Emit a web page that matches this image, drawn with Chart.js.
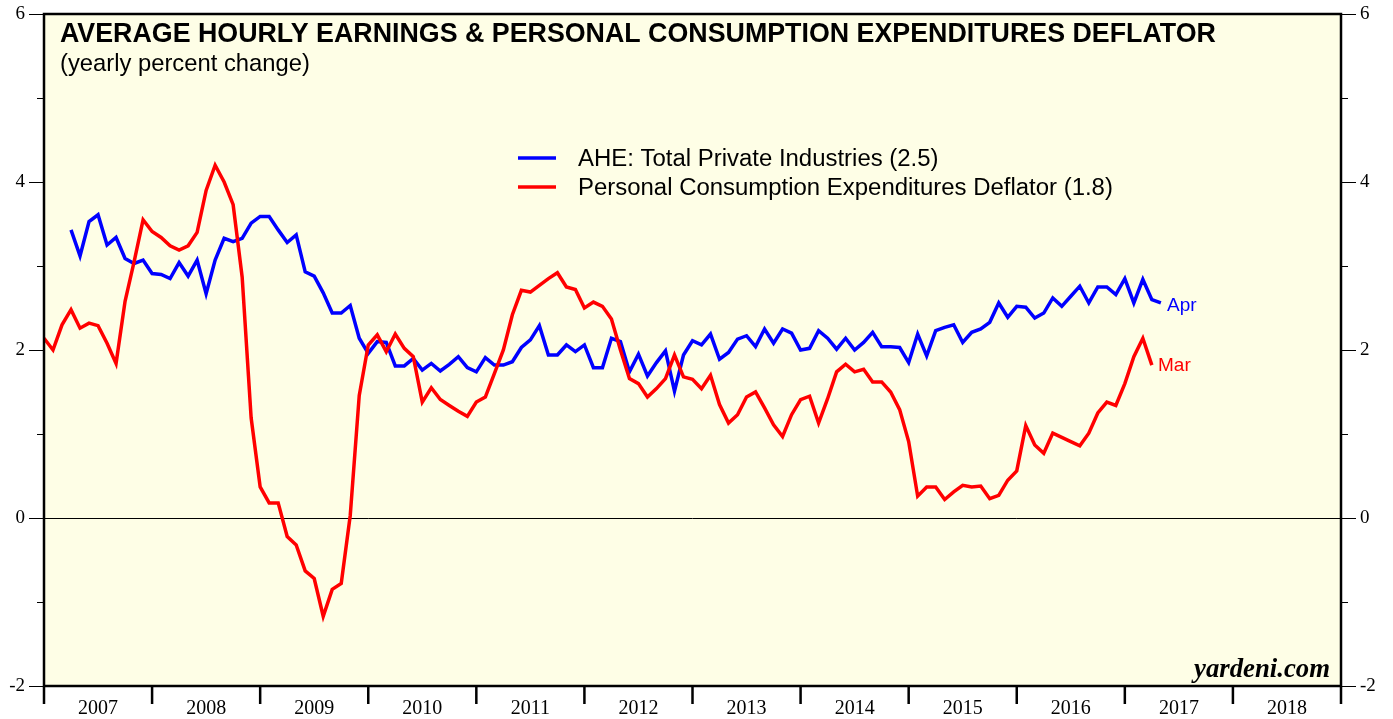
<!DOCTYPE html>
<html>
<head>
<meta charset="utf-8">
<script src="https://cdn.jsdelivr.net/npm/chart.js@4.4.1/dist/chart.umd.min.js"></script>
<style>
  html, body { margin: 0; padding: 0; background: #ffffff; }
  canvas { display: block; }
</style>
</head>
<body>
<canvas id="c" width="1393" height="719"></canvas>
<script>
// ---------------- DATA ----------------
const yearLabels = ['2007','2008','2009','2010','2011','2012','2013','2014','2015','2016','2017','2018'];
const yMajorTicks = [-2, 0, 2, 4, 6];
const yMinorTicks = [-1, 1, 3, 5];

// PCE deflator, yearly % change, monthly from Dec 2006 to Mar 2017
const pceStart = { year: 2006, month: 12 };
const pceValues = [
  2.14, 2.00, 2.30, 2.48, 2.26, 2.32, 2.29, 2.08, 1.84, 2.58,
  3.05, 3.55, 3.41, 3.34, 3.24, 3.19, 3.24, 3.40, 3.90, 4.20,
  4.00, 3.73, 2.87, 1.19, 0.37, 0.18, 0.18, -0.22, -0.32, -0.63,
  -0.72, -1.17, -0.85, -0.78, 0.03, 1.46, 2.06, 2.18, 1.98, 2.19,
  2.02, 1.92, 1.38, 1.55, 1.41, 1.34, 1.27, 1.21, 1.38, 1.44,
  1.72, 2.00, 2.42, 2.71, 2.69, 2.77, 2.85, 2.92, 2.75, 2.72,
  2.50, 2.57, 2.52, 2.37, 2.00, 1.66, 1.60, 1.44, 1.54, 1.66,
  1.94, 1.68, 1.65, 1.54, 1.70, 1.35, 1.13, 1.23, 1.44, 1.50,
  1.31, 1.11, 0.97, 1.23, 1.41, 1.45, 1.13, 1.42, 1.74, 1.83,
  1.74, 1.77, 1.62, 1.62, 1.50, 1.29, 0.91, 0.26, 0.37, 0.37,
  0.22, 0.31, 0.39, 0.37, 0.38, 0.23, 0.27, 0.45, 0.56, 1.10,
  0.87, 0.77, 1.01, 0.96, 0.91, 0.86, 1.01, 1.25, 1.38, 1.34,
  1.60, 1.92, 2.14, 1.82
];

// AHE total private industries, yearly % change, monthly from Mar 2007 to Apr 2017
const aheStart = { year: 2007, month: 3 };
const aheValues = [
  3.43, 3.12, 3.53, 3.61, 3.25, 3.34, 3.09, 3.03, 3.07, 2.91,
  2.90, 2.85, 3.04, 2.88, 3.07, 2.67, 3.07, 3.33, 3.29, 3.33,
  3.51, 3.59, 3.59, 3.43, 3.28, 3.37, 2.93, 2.88, 2.68, 2.44,
  2.44, 2.53, 2.14, 1.96, 2.10, 2.09, 1.81, 1.81, 1.90, 1.76,
  1.84, 1.75, 1.83, 1.92, 1.79, 1.74, 1.91, 1.82, 1.82, 1.86,
  2.03, 2.12, 2.29, 1.94, 1.94, 2.06, 1.98, 2.06, 1.79, 1.79,
  2.14, 2.10, 1.74, 1.95, 1.69, 1.85, 1.99, 1.51, 1.94, 2.11,
  2.06, 2.19, 1.89, 1.97, 2.13, 2.17, 2.04, 2.25, 2.08, 2.25,
  2.20, 2.00, 2.02, 2.23, 2.14, 2.01, 2.14, 2.00, 2.09, 2.21,
  2.04, 2.04, 2.03, 1.85, 2.19, 1.93, 2.23, 2.27, 2.30, 2.09,
  2.21, 2.25, 2.33, 2.56, 2.39, 2.52, 2.51, 2.38, 2.44, 2.62,
  2.52, 2.64, 2.76, 2.56, 2.75, 2.75, 2.66, 2.85, 2.56, 2.84,
  2.60, 2.56
];

const titleText = 'AVERAGE HOURLY EARNINGS & PERSONAL CONSUMPTION EXPENDITURES DEFLATOR';
const subtitleText = '(yearly percent change)';
const aheLabel = 'AHE: Total Private Industries (2.5)';
const pceLabel = 'Personal Consumption Expenditures Deflator (1.8)';
const aheEndLabel = 'Apr';
const pceEndLabel = 'Mar';
const sourceText = 'yardeni.com';

// ---------------- BUILD ----------------
function toPoints(start, values) {
  return values.map((v, i) => {
    const m = start.month + i;           // month count
    const yr = start.year + Math.floor((m - 1) / 12);
    const mo = ((m - 1) % 12) + 1;
    return { x: yr + mo / 12, y: v };    // plotted at end of month
  });
}

const BLUE = '#0000ff';
const RED = '#ff0000';
const SANS = '"Liberation Sans", Arial, Helvetica, sans-serif';
const SERIF = '"Liberation Serif", "Times New Roman", serif';

function fitFont(ctx, text, weight, style, family, target) {
  ctx.font = `${style} ${weight} 100px ${family}`;
  const w = ctx.measureText(text).width;
  return 100 * target / w;
}

const decor = {
  id: 'decor',
  beforeDraw(chart) {
    const { ctx, chartArea: a } = chart;
    ctx.save();
    ctx.fillStyle = '#ffffff';
    ctx.fillRect(0, 0, chart.width, chart.height);
    ctx.fillStyle = '#fefee6';
    ctx.fillRect(a.left, a.top, a.right - a.left, a.bottom - a.top);
    ctx.restore();
  },
  beforeDatasetsDraw(chart) {
    const { ctx, chartArea: a, scales } = chart;
    const y0 = Math.round(scales.y.getPixelForValue(0)) + 0.5;
    ctx.save();
    ctx.strokeStyle = '#000';
    ctx.lineWidth = 1;
    ctx.beginPath();
    ctx.moveTo(a.left, y0);
    ctx.lineTo(a.right, y0);
    ctx.stroke();
    ctx.restore();
  },
  afterDatasetsDraw(chart) {
    const { ctx, chartArea: a, scales } = chart;
    const xs = scales.x, ys = scales.y;
    ctx.save();

    // border
    ctx.strokeStyle = '#000';
    ctx.lineWidth = 2.5;
    ctx.strokeRect(a.left, a.top, a.right - a.left, a.bottom - a.top);

    // y ticks both sides
    ctx.lineWidth = 1.2;
    ctx.beginPath();
    yMajorTicks.forEach(v => {
      const y = Math.round(ys.getPixelForValue(v)) + 0.5;
      ctx.moveTo(a.left - 15, y); ctx.lineTo(a.left, y);
      ctx.moveTo(a.right, y); ctx.lineTo(a.right + 15, y);
    });
    yMinorTicks.forEach(v => {
      const y = Math.round(ys.getPixelForValue(v)) + 0.5;
      ctx.moveTo(a.left - 7, y); ctx.lineTo(a.left, y);
      ctx.moveTo(a.right, y); ctx.lineTo(a.right + 7, y);
    });
    ctx.stroke();

    ctx.fillStyle = '#000';
    ctx.font = `19px ${SERIF}`;
    ctx.textBaseline = 'middle';
    yMajorTicks.forEach(v => {
      const y = ys.getPixelForValue(v);
      ctx.textAlign = 'right';
      ctx.fillText(String(v), a.left - 19, y);
      ctx.textAlign = 'left';
      ctx.fillText(String(v), a.right + 19, y);
    });

    // x ticks at year boundaries
    ctx.lineWidth = 2.5;
    ctx.beginPath();
    for (let i = 0; i <= yearLabels.length; i++) {
      const x = xs.getPixelForValue(2007 + i);
      ctx.moveTo(x, a.bottom); ctx.lineTo(x, a.bottom + 18);
    }
    ctx.stroke();
    ctx.font = `20px ${SERIF}`;
    ctx.textAlign = 'center';
    ctx.textBaseline = 'middle';
    yearLabels.forEach((lab, i) => {
      const x = xs.getPixelForValue(2007 + i + 0.5);
      ctx.fillText(lab, x, a.bottom + 23);
    });

    // title and subtitle
    ctx.textAlign = 'left';
    ctx.textBaseline = 'alphabetic';
    let fs = fitFont(ctx, titleText, 'bold', 'normal', SANS, 1156);
    ctx.font = `bold ${fs}px ${SANS}`;
    ctx.fillText(titleText, 60, 42);
    fs = fitFont(ctx, subtitleText, 'normal', 'normal', SANS, 250);
    ctx.font = `${fs}px ${SANS}`;
    ctx.fillText(subtitleText, 60, 71);

    // legend
    ctx.lineWidth = 3.5;
    ctx.strokeStyle = BLUE;
    ctx.beginPath(); ctx.moveTo(518, 158); ctx.lineTo(556, 158); ctx.stroke();
    ctx.strokeStyle = RED;
    ctx.beginPath(); ctx.moveTo(518, 187); ctx.lineTo(556, 187); ctx.stroke();
    fs = fitFont(ctx, pceLabel, 'normal', 'normal', SANS, 535);
    ctx.font = `${fs}px ${SANS}`;
    ctx.fillStyle = '#000';
    ctx.textBaseline = 'middle';
    ctx.fillText(aheLabel, 578, 159);
    ctx.fillText(pceLabel, 578, 188);

    // end labels
    ctx.font = `19px ${SANS}`;
    ctx.fillStyle = BLUE;
    ctx.fillText(aheEndLabel, 1167, 306);
    ctx.fillStyle = RED;
    ctx.fillText(pceEndLabel, 1158, 366);

    // source
    fs = fitFont(ctx, sourceText, 'bold', 'italic', SERIF, 136);
    ctx.font = `italic bold ${fs}px ${SERIF}`;
    ctx.fillStyle = '#000';
    ctx.textAlign = 'right';
    ctx.textBaseline = 'alphabetic';
    ctx.fillText(sourceText, 1330, 677);

    ctx.restore();
  }
};

new Chart(document.getElementById('c'), {
  type: 'line',
  data: {
    datasets: [
      {
        label: pceLabel,
        data: toPoints(pceStart, pceValues),
        borderColor: RED,
        borderWidth: 3.5,
        pointRadius: 0,
        tension: 0,
        fill: false
      },
      {
        label: aheLabel,
        data: toPoints(aheStart, aheValues),
        borderColor: BLUE,
        borderWidth: 3.5,
        pointRadius: 0,
        tension: 0,
        fill: false
      }
    ]
  },
  options: {
    responsive: false,
    animation: false,
    devicePixelRatio: 1,
    layout: { padding: { left: 44, right: 52, top: 14, bottom: 33 } },
    scales: {
      x: { type: 'linear', min: 2007, max: 2019, display: false },
      y: { type: 'linear', min: -2, max: 6, display: false }
    },
    plugins: { legend: { display: false }, tooltip: { enabled: false } }
  },
  plugins: [decor]
});
</script>
</body>
</html>
